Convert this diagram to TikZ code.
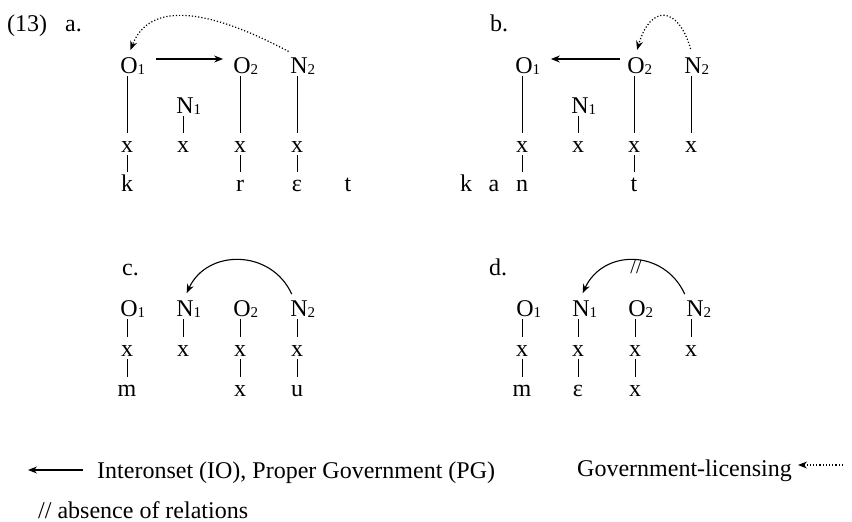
\documentclass[tikz,border=0pt]{standalone}
\usepackage{fontspec}
\setmainfont{Liberation Serif}
\usetikzlibrary{arrows.meta}
\newcommand{\subidx}[1]{\raisebox{-1pt}{\fontsize{15}{15}\selectfont #1}}

\begin{document}
\begin{tikzpicture}[x=1pt, y=-1pt,
  font=\fontsize{24}{28}\selectfont,
  tier/.style={inner xsep=1pt, inner ysep=3pt, text height=16pt, text depth=0pt, anchor=base},
  numtag/.style={inner sep=0pt, anchor=base west},
  assoc/.style={line width=1pt},
  govern/.style={line width=1.1pt, -{Stealth[length=9pt,width=7pt]}},
  licence/.style={line width=1.2pt, dotted, -{Stealth[length=9pt,width=7pt]}},
  ]
  \useasboundingbox (0,0) rectangle (852,522);

  % example number and panel letters
  \node[numtag] (ex-num) at (7,31) {(13)};
  \node[numtag] (a-tag) at (65,31) {a.};
  \node[numtag] (b-tag) at (490,31) {b.};
  \node[numtag] (c-tag) at (122,275) {c.};
  \node[numtag] (d-tag) at (489,275) {d.};

  % panel a
  \node[tier] (a-o1) at (129,73) {O\rlap{\subidx{1}}};
  \node[tier] (a-n1) at (185,113) {N\rlap{\subidx{1}}};
  \node[tier] (a-o2) at (242,73) {O\rlap{\subidx{2}}};
  \node[tier] (a-n2) at (299,73) {N\rlap{\subidx{2}}};
  \node[tier] (a-x1) at (127,152) {x};
  \node[tier] (a-x2) at (183,152) {x};
  \node[tier] (a-x3) at (240,152) {x};
  \node[tier] (a-x4) at (297,152) {x};
  \node[tier] (a-k) at (127,191) {k};
  \node[tier] (a-r) at (240,191) {r};
  \node[tier] (a-e) at (297,191) {ε};
  \node[tier] (a-t) at (348,191) {t};

  \draw[assoc] (a-o1.south -| a-x1) -- (a-x1.north);
  \draw[assoc] (a-x1.south) -- (a-k.north);
  \draw[assoc] (a-n1.south -| a-x2) -- (a-x2.north);
  \draw[assoc] (a-o2.south -| a-x3) -- (a-x3.north);
  \draw[assoc] (a-x3.south) -- (a-r.north);
  \draw[assoc] (a-n2.south -| a-x4) -- (a-x4.north);
  \draw[assoc] (a-x4.south) -- (a-e.north);

  \draw[govern] ([xshift=17pt,yshift=6pt]a-o1.east) -- ([xshift=-9pt,yshift=6pt]a-o2.west);
  \draw[licence, shorten <=5pt, shorten >=4pt] ([xshift=-6pt]a-n2.north)
    .. controls +(-83,-44) and +(21,-54) .. (a-o1.north);

  % panel b
  \node[tier] (b-o1) at (524,73) {O\rlap{\subidx{1}}};
  \node[tier] (b-n1) at (580,113) {N\rlap{\subidx{1}}};
  \node[tier] (b-o2) at (636,73) {O\rlap{\subidx{2}}};
  \node[tier] (b-n2) at (693,73) {N\rlap{\subidx{2}}};
  \node[tier] (b-x1) at (522,152) {x};
  \node[tier] (b-x2) at (578,152) {x};
  \node[tier] (b-x3) at (634,152) {x};
  \node[tier] (b-x4) at (691,152) {x};
  \node[tier] (b-k) at (466,191) {k};
  \node[tier] (b-a) at (494,191) {a};
  \node[tier] (b-n) at (522,191) {n};
  \node[tier] (b-t) at (634,191) {t};

  \draw[assoc] (b-o1.south -| b-x1) -- (b-x1.north);
  \draw[assoc] (b-x1.south) -- (b-n.north);
  \draw[assoc] (b-n1.south -| b-x2) -- (b-x2.north);
  \draw[assoc] (b-o2.south -| b-x3) -- (b-x3.north);
  \draw[assoc] (b-x3.south) -- (b-t.north);
  \draw[assoc] (b-n2.south -| b-x4) -- (b-x4.north);

  \draw[govern] ([xshift=-6pt,yshift=6pt]b-o2.west) -- ([xshift=17pt,yshift=6pt]b-o1.east);
  \draw[licence, shorten <=5pt, shorten >=4pt] ([xshift=-1pt]b-n2.north)
    .. controls +(-14,-49) and +(14,-49) .. (b-o2.north);

  % panel c
  \node[tier] (c-o1) at (129,316) {O\rlap{\subidx{1}}};
  \node[tier] (c-n1) at (185,316) {N\rlap{\subidx{1}}};
  \node[tier] (c-o2) at (242,316) {O\rlap{\subidx{2}}};
  \node[tier] (c-n2) at (299,316) {N\rlap{\subidx{2}}};
  \node[tier] (c-x1) at (127,356) {x};
  \node[tier] (c-x2) at (183,356) {x};
  \node[tier] (c-x3) at (240,356) {x};
  \node[tier] (c-x4) at (297,356) {x};
  \node[tier] (c-m) at (127,396) {m};
  \node[tier] (c-x) at (240,396) {x};
  \node[tier] (c-u) at (297,396) {u};

  \draw[assoc] (c-o1.south -| c-x1) -- (c-x1.north);
  \draw[assoc] (c-x1.south) -- (c-m.north);
  \draw[assoc] (c-n1.south -| c-x2) -- (c-x2.north);
  \draw[assoc] (c-o2.south -| c-x3) -- (c-x3.north);
  \draw[assoc] (c-x3.south) -- (c-x.north);
  \draw[assoc] (c-n2.south -| c-x4) -- (c-x4.north);
  \draw[assoc] (c-x4.south) -- (c-u.north);

  \draw[govern, shorten <=3pt, shorten >=4pt] ([xshift=-6pt]c-n2.north)
    .. controls +(-22,-48) and +(22,-48) .. (c-n1.north);

  % panel d
  \node[tier] (d-o1) at (525,316) {O\rlap{\subidx{1}}};
  \node[tier] (d-n1) at (581,316) {N\rlap{\subidx{1}}};
  \node[tier] (d-o2) at (637,316) {O\rlap{\subidx{2}}};
  \node[tier] (d-n2) at (695,316) {N\rlap{\subidx{2}}};
  \node[tier] (d-x1) at (522,356) {x};
  \node[tier] (d-x2) at (578,356) {x};
  \node[tier] (d-x3) at (635,356) {x};
  \node[tier] (d-x4) at (691,356) {x};
  \node[tier] (d-m) at (522,396) {m};
  \node[tier] (d-e) at (578,396) {ε};
  \node[tier] (d-x) at (635,396) {x};

  \draw[assoc] (d-o1.south -| d-x1) -- (d-x1.north);
  \draw[assoc] (d-x1.south) -- (d-m.north);
  \draw[assoc] (d-n1.south -| d-x2) -- (d-x2.north);
  \draw[assoc] (d-x2.south) -- (d-e.north);
  \draw[assoc] (d-o2.south -| d-x3) -- (d-x3.north);
  \draw[assoc] (d-x3.south) -- (d-x.north);
  \draw[assoc] (d-n2.south -| d-x4) -- (d-x4.north);

  \draw[govern, shorten <=3pt, shorten >=4pt] ([xshift=-9pt]d-n2.north)
    .. controls +(-22,-48) and +(22,-48) .. (d-n1.north);
  % blocked relation
  \node[inner sep=0pt, font=\fontsize{20}{20}\selectfont] (d-cut) at (636,267) {//};

  % legend
  \node[tier, anchor=base west] (leg-io) at (96,478) {Interonset (IO), Proper Government (PG)};
  \node[tier, anchor=base west] (leg-gl) at (576,476) {Government-licensing};
  \node[tier, anchor=base west] (leg-cut) at (37,518) {// absence of relations};

  \draw[govern] ([xshift=-13pt]leg-io.west) -- ([xshift=-68pt]leg-io.west);
  \draw[licence] ([xshift=50pt,yshift=3pt]leg-gl.east) -- ([xshift=5pt,yshift=3pt]leg-gl.east);

\end{tikzpicture}
\end{document}
